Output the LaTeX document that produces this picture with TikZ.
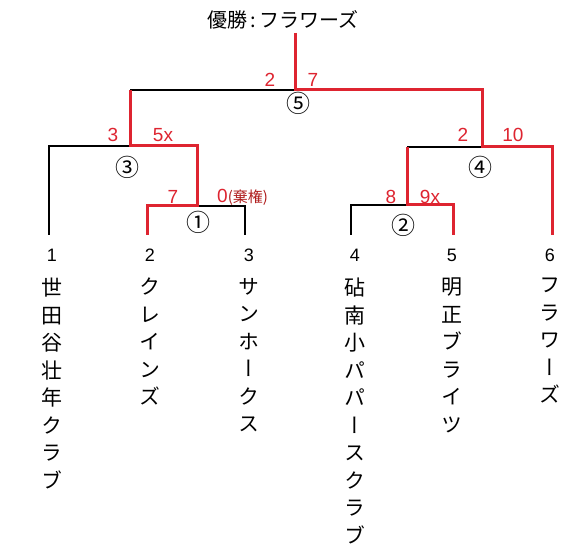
\documentclass[tikz,border=0pt]{standalone}
\usepackage{fontspec}
\setmainfont{Noto Sans CJK JP}
\newfontfamily\vjp[RawFeature=+vert]{Noto Sans CJK JP}
\newfontfamily\lat{Liberation Sans}
\definecolor{win}{RGB}{222,36,48}
\definecolor{dred}{RGB}{176,30,30}
\tikzset{
  blk/.style={draw=black,line width=1.8pt},
  redl/.style={draw=win,line width=3pt,line join=miter},
  score/.style={text=win,font=\lat\fontsize{19}{19}\selectfont,inner sep=0pt},
  circ/.style={font=\fontsize{24}{24}\selectfont,inner sep=0pt},
  num/.style={font=\lat\fontsize{18}{18}\selectfont,inner sep=0pt},
  team/.style={font=\vjp\fontsize{21}{27.5}\selectfont,align=center,anchor=north,inner sep=0pt},
}
\begin{document}
\begin{tikzpicture}[x=1pt,y=-1pt]
\useasboundingbox (0,0) rectangle (582,559);
\fill[white] (0,0) rectangle (582,559);
% coordinates
\coordinate (t1) at (49,235);  \coordinate (a1) at (49,146);
\coordinate (t2) at (147,235); \coordinate (a2) at (147,206);
\coordinate (t3) at (245,235); \coordinate (a3) at (245,206);
\coordinate (t4) at (351,235); \coordinate (a4) at (351,205);
\coordinate (t5) at (453,235); \coordinate (a5) at (453,205);
\coordinate (t6) at (552,235); \coordinate (a6) at (552,147);
\coordinate (m1) at (197,206); \coordinate (m1t) at (197,146);
\coordinate (m3) at (130,146); \coordinate (m3t) at (130,90);
\coordinate (m2) at (407,205); \coordinate (m2t) at (407,147);
\coordinate (m4) at (482,147); \coordinate (m4t) at (482,90);
\coordinate (m5) at (295,90);  \coordinate (top) at (295,33);
% black lines
\draw[blk] (t1) -- (a1) -- (m3);
\draw[blk] (m1) -- (a3) -- (t3);
\draw[blk] (m3t) -- (m5);
\draw[blk] (t4) -- (a4) -- (m2);
\draw[blk] (m2t) -- (m4);
% red lines
\draw[redl] (t2) -- (a2) -- (m1) -- (m1t) -- (m3) -- (m3t);
\draw[redl] (top) -- (m5) -- (m4t) -- (m4) -- (a6) -- (t6);
\draw[redl] (t5) -- (a5) -- (m2) -- (m2t);
% title
\node[font=\fontsize{20}{20}\selectfont,inner sep=0pt] (title) at (283,20) {優勝\,:\,フラワーズ};
% scores
\node[score] (s5a) at (270,80) {2};
\node[score] (s5b) at (313,80) {7};
\node[score] (s3a) at (113,135) {3};
\node[score] (s3b) at (163,135) {5x};
\node[score] (s1a) at (173,197) {7};
\node[score,anchor=west] (s1b) at (217,197) {0\textcolor{dred}{\rmfamily\fontsize{15}{15}\selectfont (棄権)}};
\node[score] (s4a) at (463,135) {2};
\node[score] (s4b) at (513,135) {10};
\node[score] (s2a) at (391,197) {8};
\node[score] (s2b) at (430,197) {9x};
% match numbers
\node[circ] (c5) at (298,103) {⑤};
\node[circ] (c3) at (127,167) {③};
\node[circ] (c1) at (198,222) {①};
\node[circ] (c4) at (480,167) {④};
\node[circ] (c2) at (403,225) {②};
% leaf numbers
\node[num] (n1) at (52,255) {1};
\node[num] (n2) at (150,255) {2};
\node[num] (n3) at (249,255) {3};
\node[num] (n4) at (355,255) {4};
\node[num] (n5) at (452,255) {5};
\node[num] (n6) at (550,255) {6};
% team names
\node[team] (tm1) at (52,278) {世\\田\\谷\\壮\\年\\ク\\ラ\\ブ};
\node[team] (tm2) at (150,278) {ク\\レ\\イ\\ン\\ズ};
\node[team] (tm3) at (249,278) {サ\\ン\\ホ\\ー\\ク\\ス};
\node[team] (tm4) at (355,278) {砧\\南\\小\\パ\\パ\\ー\\ス\\ク\\ラ\\ブ};
\node[team] (tm5) at (452,278) {明\\正\\ブ\\ラ\\イ\\ツ};
\node[team] (tm6) at (550,278) {フ\\ラ\\ワ\\ー\\ズ};
\end{tikzpicture}
\end{document}
